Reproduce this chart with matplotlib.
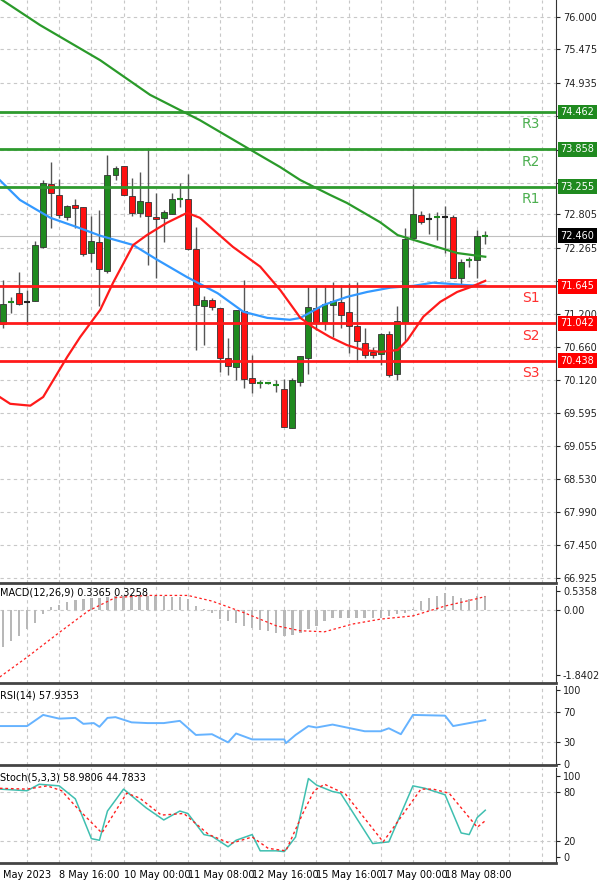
import matplotlib
matplotlib.use("Agg")
import matplotlib.pyplot as plt
import matplotlib.transforms as mtransforms
import numpy as np

# ---------------- data ----------------
opens  = [71.03,71.37,71.53,71.39,71.41,72.28,73.30,73.12,72.76,72.96,72.93,72.18,72.36,71.89,73.44,73.59,73.10,72.83,73.01,72.76,
          72.75,72.81,73.06,73.06,72.25,71.32,71.42,71.29,70.48,70.34,71.24,70.16,70.06,70.07,70.03,69.98,69.35,70.09,70.48,71.29,
          71.07,71.34,71.39,71.23,71.00,70.73,70.58,70.55,70.87,70.22,71.07,72.42,72.80,72.73,72.76,72.77,72.76,71.78,72.06,72.07,72.45]
highs  = [71.74,71.47,71.87,71.58,72.38,73.36,73.65,73.38,72.96,73.06,72.93,72.78,72.88,73.77,73.59,73.59,73.40,73.49,73.88,73.15,
          72.88,73.15,73.31,73.46,72.60,71.49,71.45,71.29,70.81,71.26,71.74,70.53,70.13,70.09,70.13,70.14,70.16,70.52,71.65,71.65,
          71.66,71.71,71.66,71.70,71.71,70.97,70.66,70.89,70.92,71.32,72.59,73.30,72.86,72.83,72.85,72.94,72.80,72.08,72.12,72.55,72.54]
lows   = [70.97,71.21,71.34,71.02,71.41,72.26,72.59,72.75,72.72,72.59,72.13,72.04,71.32,71.86,73.36,73.12,72.78,72.76,71.99,71.78,
          72.36,72.81,72.93,72.23,70.61,70.69,71.26,70.26,70.21,70.13,70.00,69.92,70.00,70.06,69.93,69.37,69.35,70.03,70.22,70.94,
          70.94,70.82,70.97,70.56,70.42,70.48,70.48,70.37,70.18,70.13,70.76,72.42,72.65,72.49,72.39,72.18,71.78,71.63,71.96,71.78,72.33]
closes = [71.36,71.39,71.36,71.37,72.31,73.31,73.15,72.80,72.94,72.91,72.17,72.38,71.92,73.44,73.56,73.12,72.83,73.02,72.78,72.73,
          72.85,73.06,73.06,72.25,71.34,71.42,71.31,70.48,70.35,71.26,70.14,70.08,70.08,70.07,70.05,69.37,70.13,70.52,71.31,71.07,
          71.36,71.41,71.18,71.00,70.76,70.53,70.53,70.87,70.21,71.08,72.41,72.81,72.68,72.72,72.76,72.76,71.78,72.04,72.08,72.46,72.46]

ma_red_x = [-0.4,0.9,3.4,5.0,8.0,9.6,12.1,13.7,16.2,17.9,20.4,22.9,24.5,28.6,32.0,34.5,37.0,38.6,40.7,42.8,44.8,47.0,49.1,50.3,52.3,54.4,56.5,58.2,60.0]
ma_red_y = [69.85,69.74,69.71,69.85,70.50,70.82,71.26,71.70,72.31,72.47,72.67,72.83,72.75,72.28,71.96,71.58,71.13,70.98,70.82,70.69,70.61,70.58,70.61,70.77,71.15,71.39,71.55,71.63,71.73]
ma_blue_x = [-0.4,2.1,5.9,9.2,12.1,16.2,19.2,22.9,26.7,29.9,32.9,35.7,37.0,39.9,42.8,45.3,48.2,51.1,53.5,55.7,57.8,60.0]
ma_blue_y = [73.36,73.04,72.75,72.60,72.46,72.31,72.07,71.79,71.53,71.23,71.13,71.10,71.13,71.34,71.47,71.55,71.62,71.65,71.70,71.68,71.66,71.65]
ma_green_x = [-0.4,4.6,12.1,18.3,24.5,30.8,34.5,37.0,40.7,42.8,46.9,49.1,53.2,56.5,60.0]
ma_green_y = [76.30,75.87,75.30,74.74,74.33,73.85,73.57,73.36,73.12,72.99,72.68,72.47,72.31,72.18,72.12]

levels = [74.462, 73.858, 73.255, 71.645, 71.042, 70.438]
level_names = ["R3", "R2", "R1", "S1", "S2", "S3"]
last_price = 72.460
price_ticks = [76.000,75.475,74.935,74.395,73.855,73.320,72.805,72.265,71.735,71.200,70.660,70.120,69.595,69.055,68.530,67.990,67.450,66.925]
hidden_ticks = [74.395, 73.855, 73.320, 71.735]

macd_hist = [-1.06,-0.87,-0.73,-0.55,-0.36,-0.12,0.07,0.15,0.22,0.27,0.30,0.33,0.35,0.37,0.38,0.38,0.38,0.38,0.38,0.38,
             0.38,0.37,0.36,0.30,0.10,0.02,-0.10,-0.26,-0.31,-0.38,-0.45,-0.50,-0.56,-0.60,-0.64,-0.73,-0.70,-0.64,-0.55,-0.45,
             -0.31,-0.22,-0.22,-0.22,-0.22,-0.22,-0.22,-0.22,-0.17,-0.12,-0.08,0.02,0.25,0.35,0.39,0.49,0.38,0.35,0.30,0.38,0.40]
macd_sig_x = [-0.4,3,7,10.6,14,18,23,26,30,34,37,40,43.5,47,51,55,59,60]
macd_sig_y = [-1.90,-1.34,-0.64,-0.03,0.35,0.41,0.41,0.25,-0.08,-0.45,-0.59,-0.62,-0.40,-0.26,-0.17,0.11,0.32,0.38]

rsi_x = [-0.4,3,5,7,9,10,11.3,12,13,14,16,18,20,22,24,26,28,29,31,35,35.2,36.4,38,39,41,45,47,48,49.5,51,55,56,58,60]
rsi_y = [51,51,66,61,62,54,55,50,62,63,56,55,55,58,39,40,29,41,33,33,28,39,51,49,53,44,44,48,40,66,65,51,55,59]

stk_x = [-0.4,3,4.5,7,9,11,12,13,15,17.8,20,22,23,25,26,28,29,31,32,34,35,36.4,38,39,41,42,46,48,51,52.5,55,57,58,59,60]
stk_y = [84,82,90,88,72,23,21,57,84,61,46,57,54,28,26,13,21,28,8,8,7,25,97,89,81,79,17,19,88,85,77,30,28,49,58]
std_x = [-0.4,3,5.5,7.3,9.2,12.3,15.4,17,19.7,22.5,25.6,28.3,31,33,35.2,37.3,38.7,40,42.6,47.3,52,53.5,55.5,59,60]
std_y = [85,84,88,82,61,30,79,73,52,54,28,17,25,11,8,54,82,90,78,19,84,84,79,37,45]

time_labels = ["8 May 16:00", "10 May 00:00", "11 May 08:00", "12 May 16:00",
               "15 May 16:00", "17 May 00:00", "18 May 08:00"]

# ---------------- figure ----------------
W, H = 600, 881
fig = plt.figure(figsize=(W/100, H/100), dpi=100)
fig.patch.set_facecolor("white")
R = 556/600
FS = 7
def box(top, bot):
    return [0, 1-bot/H, R, (bot-top)/H]
ax = fig.add_axes(box(0, 583))
axm = fig.add_axes(box(586, 683))
axr = fig.add_axes(box(686, 765))
axs = fig.add_axes(box(768, 863))
xl = (-0.37, 68.8)
GREEN = "#1f8a1f"; RED = "#ff1010"
grid_kw = dict(color="#c8c8c8", ls=(0, (3, 3)), lw=0.8)
vgrid = np.arange(3, 69, 4)

for a in (ax, axm, axr, axs):
    a.set_xlim(*xl)
    a.yaxis.tick_right()
    a.tick_params(axis="y", length=3, labelsize=FS, pad=2, colors="#222")
    a.tick_params(axis="x", length=0, labelbottom=False)
    for s in ("top", "left"):
        a.spines[s].set_visible(False)
    a.spines["right"].set_color("#333")
    a.spines["bottom"].set_color("#444")
    a.spines["bottom"].set_linewidth(2)
    for v in vgrid:
        a.axvline(v, zorder=0, **grid_kw)

# main
ax.set_ylim(66.84, 76.275)
ax.set_yticks(price_ticks)
ax.set_yticklabels(["" if t in hidden_ticks else f"{t:.3f}" for t in price_ticks])
for t in price_ticks:
    ax.axhline(t, zorder=0, **grid_kw)
ax.axhline(last_price, color="#c0c0c0", lw=0.8, zorder=0)
for i, (o, h, l, c) in enumerate(zip(opens, highs, lows, closes)):
    col = GREEN if c >= o else RED
    ax.vlines(i, l, h, color="#555", lw=1, zorder=2)
    b = abs(c - o)
    if b < 0.03:
        ax.hlines((o+c)/2, i-0.35, i+0.35, color="#222" if col == RED else GREEN, lw=1.5, zorder=3)
    else:
        ax.add_patch(plt.Rectangle((i-0.37, min(o, c)), 0.74, b, facecolor=col,
                                   edgecolor="#333", lw=0.6, zorder=3))
ax.plot(ma_green_x, ma_green_y, color="#2a9a2a", lw=1.6, zorder=4)
ax.plot(ma_blue_x, ma_blue_y, color="#3399ff", lw=1.6, zorder=4)
ax.plot(ma_red_x, ma_red_y, color="#ff1a1a", lw=1.6, zorder=4)
trans = mtransforms.blended_transform_factory(ax.transAxes, ax.transData)
for lv, nm in zip(levels, level_names):
    col = "#2e9a2e" if nm[0] == "R" else "#ff1a1a"
    tcol = "#4caf50" if nm[0] == "R" else "#ff3030"
    ax.axhline(lv, color=col, lw=2, zorder=5)
    ax.text(0.955, lv - 0.2, nm, color=tcol, fontsize=10, ha="center", va="center",
            transform=trans, zorder=8, clip_on=False)
    ax.text(1.008, lv, f"{lv:.3f}", color="white", fontsize=FS, va="center", ha="left",
            transform=trans, zorder=10, clip_on=False,
            bbox=dict(boxstyle="square,pad=0.25", fc="#1f8a1f" if nm[0] == "R" else "#ff0000", ec="none"))
ax.text(1.008, last_price, f"{last_price:.3f}", color="white", fontsize=FS, va="center", ha="left",
        transform=trans, zorder=10, clip_on=False, bbox=dict(boxstyle="square,pad=0.25", fc="black", ec="none"))

# MACD
axm.set_ylim(-2.07, 0.677)
axm.set_yticks([0.5358, 0.0, -1.8402])
axm.set_yticklabels(["0.5358", "0.00", "-1.8402"])
axm.axhline(0, zorder=0, **grid_kw)
axm.bar(range(len(macd_hist)), macd_hist, width=0.3, color="#b8b8b8", zorder=2)
axm.plot(macd_sig_x, macd_sig_y, color="#ff2020", lw=0.9, ls=(0, (2, 2)), zorder=3)
axm.text(0.0, 0.93, "MACD(12,26,9) 0.3365 0.3258", transform=axm.transAxes, fontsize=FS, va="center")

# RSI
axr.set_ylim(-1.5, 105)
axr.set_yticks([100, 70, 30, 0])
for t in (70, 30):
    axr.axhline(t, zorder=0, **grid_kw)
axr.plot(rsi_x, rsi_y, color="#66b3ff", lw=1.4, zorder=3)
axr.text(0.0, 0.88, "RSI(14) 57.9353", transform=axr.transAxes, fontsize=FS, va="center")

# Stoch
axs.set_ylim(-7, 110)
axs.set_yticks([100, 80, 20, 0])
for t in (80, 20):
    axs.axhline(t, zorder=0, **grid_kw)
axs.plot(stk_x, stk_y, color="#3fbfb0", lw=1.1, zorder=3)
axs.plot(std_x, std_y, color="#ff2020", lw=1.0, ls=(0, (2, 2)), zorder=3)
axs.text(0.0, 0.9, "Stoch(5,3,3) 58.9806 44.7833", transform=axs.transAxes, fontsize=FS, va="center")

# time labels
ty = 1 - 875/H
fig.text(0.005, ty, "May 2023", fontsize=FS, va="center", ha="left")
tx = axs.transData
for k, lab in enumerate(time_labels):
    xi = 7 + 8*k
    xf = fig.transFigure.inverted().transform(tx.transform((xi, 0)))[0]
    fig.text(xf, ty, lab, fontsize=FS, va="center", ha="left")

fig.savefig("out.png", dpi=100, facecolor="white")
